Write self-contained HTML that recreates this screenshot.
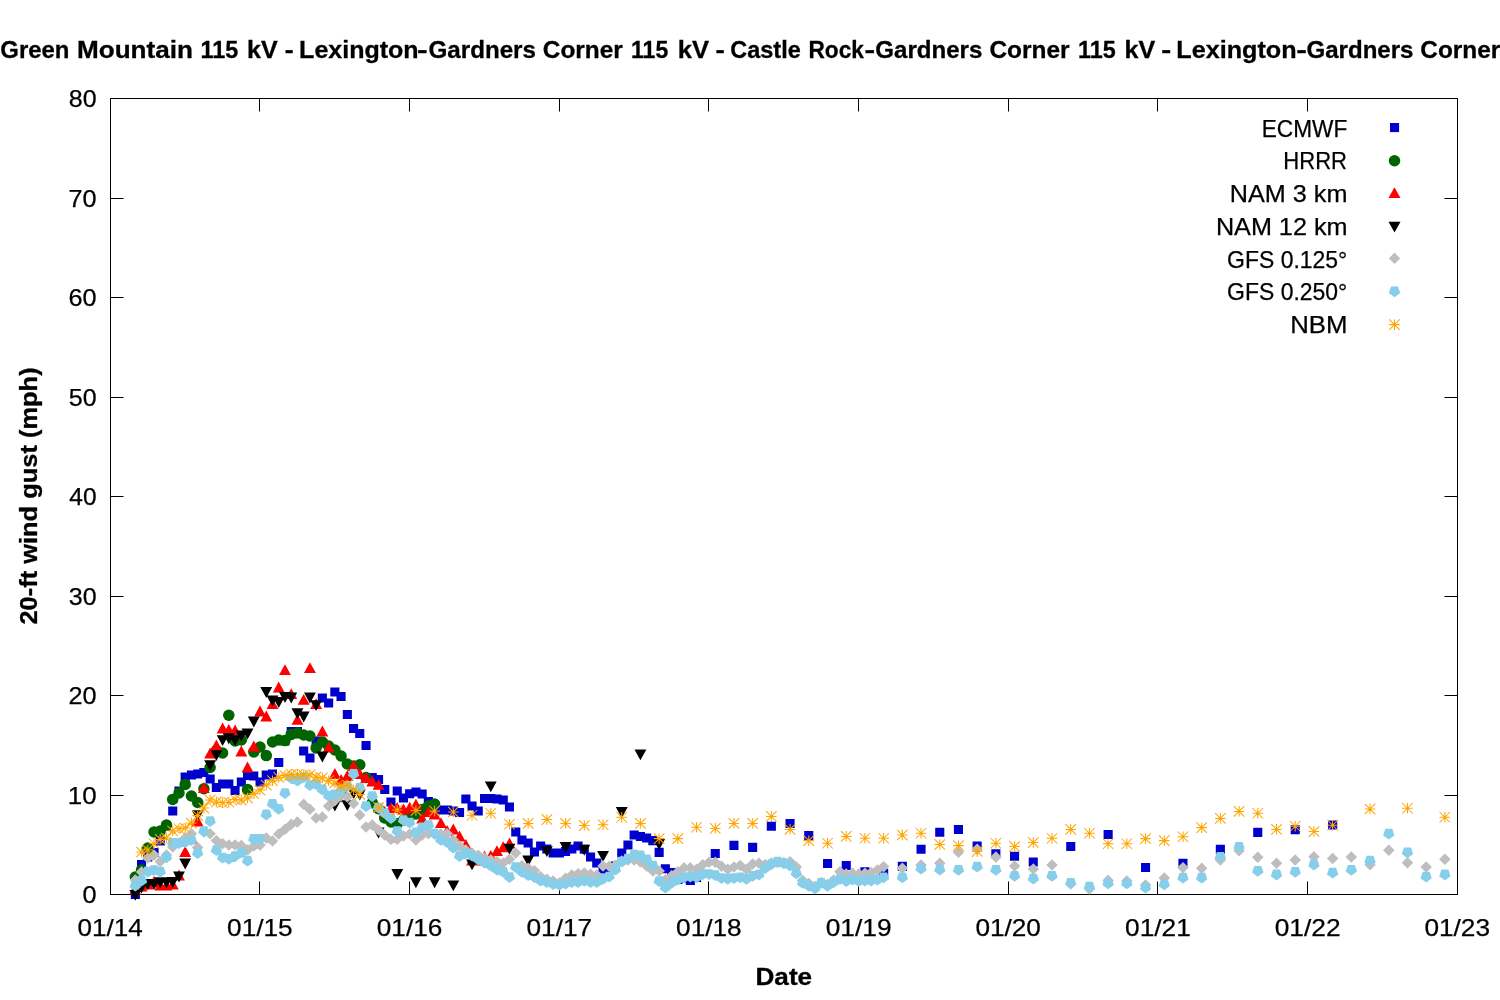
<!DOCTYPE html>
<html><head><meta charset="utf-8"><title>20-ft wind gust</title>
<style>
html,body{margin:0;padding:0;background:#fff;}
body{width:1500px;height:1000px;overflow:hidden;}
svg{display:block;}
text{font-family:"Liberation Sans","DejaVu Sans",sans-serif;font-size:24px;fill:#000;stroke:#000;stroke-width:0.25px;}
text.b{font-weight:bold;stroke-width:0.3px;}
</style></head><body>
<svg width="1500" height="1000" viewBox="0 0 1500 1000">
<rect width="1500" height="1000" fill="#fff"/>
<text class="b" y="58.2"><tspan x="0.30" textLength="69.18" lengthAdjust="spacingAndGlyphs">Green</tspan> <tspan x="77.03" textLength="115.91" lengthAdjust="spacingAndGlyphs">Mountain</tspan> <tspan x="200.54" textLength="37.66" lengthAdjust="spacingAndGlyphs">115</tspan> <tspan x="247.10" textLength="30.64" lengthAdjust="spacingAndGlyphs">kV</tspan> <tspan x="284.68" textLength="8.92" lengthAdjust="spacingAndGlyphs">-</tspan> <tspan x="299.11" textLength="119.49" lengthAdjust="spacingAndGlyphs">Lexington</tspan><tspan x="416.97" textLength="10.66" lengthAdjust="spacingAndGlyphs">-</tspan><tspan x="428.49" textLength="107.47" lengthAdjust="spacingAndGlyphs">Gardners</tspan> <tspan x="542.78" textLength="80.03" lengthAdjust="spacingAndGlyphs">Corner</tspan> <tspan x="631.06" textLength="37.13" lengthAdjust="spacingAndGlyphs">115</tspan> <tspan x="677.77" textLength="31.28" lengthAdjust="spacingAndGlyphs">kV</tspan> <tspan x="715.63" textLength="9.32" lengthAdjust="spacingAndGlyphs">-</tspan> <tspan x="730.32" textLength="70.45" lengthAdjust="spacingAndGlyphs">Castle</tspan> <tspan x="808.47" textLength="55.39" lengthAdjust="spacingAndGlyphs">Rock</tspan><tspan x="864.47" textLength="10.66" lengthAdjust="spacingAndGlyphs">-</tspan><tspan x="875.30" textLength="106.97" lengthAdjust="spacingAndGlyphs">Gardners</tspan> <tspan x="989.48" textLength="80.13" lengthAdjust="spacingAndGlyphs">Corner</tspan> <tspan x="1078.04" textLength="37.66" lengthAdjust="spacingAndGlyphs">115</tspan> <tspan x="1124.60" textLength="30.64" lengthAdjust="spacingAndGlyphs">kV</tspan> <tspan x="1161.25" textLength="9.99" lengthAdjust="spacingAndGlyphs">-</tspan> <tspan x="1176.29" textLength="120.31" lengthAdjust="spacingAndGlyphs">Lexington</tspan><tspan x="1296.17" textLength="10.66" lengthAdjust="spacingAndGlyphs">-</tspan><tspan x="1306.50" textLength="106.97" lengthAdjust="spacingAndGlyphs">Gardners</tspan> <tspan x="1420.28" textLength="80.03" lengthAdjust="spacingAndGlyphs">Corner</tspan></text>
<path fill="none" stroke="#000" stroke-width="1" d="M110.5 98.5H1457.5V894.5H110.5zM110.5 894.5v-13M110.5 98.5v13M259.5 894.5v-13M259.5 98.5v13M409.5 894.5v-13M409.5 98.5v13M559.5 894.5v-13M559.5 98.5v13M708.5 894.5v-13M708.5 98.5v13M858.5 894.5v-13M858.5 98.5v13M1008.5 894.5v-13M1008.5 98.5v13M1157.5 894.5v-13M1157.5 98.5v13M1307.5 894.5v-13M1307.5 98.5v13M1457.5 894.5v-13M1457.5 98.5v13M110.5 894.5h13M1457.5 894.5h-13M110.5 795.5h13M1457.5 795.5h-13M110.5 695.5h13M1457.5 695.5h-13M110.5 596.5h13M1457.5 596.5h-13M110.5 496.5h13M1457.5 496.5h-13M110.5 397.5h13M1457.5 397.5h-13M110.5 297.5h13M1457.5 297.5h-13M110.5 198.5h13M1457.5 198.5h-13M110.5 98.5h13M1457.5 98.5h-13"/>
<text x="82.55" y="903.3" textLength="14.08" lengthAdjust="spacingAndGlyphs">0</text><text x="67.77" y="803.8" textLength="28.85" lengthAdjust="spacingAndGlyphs">10</text><text x="68.48" y="704.3" textLength="28.11" lengthAdjust="spacingAndGlyphs">20</text><text x="68.76" y="604.8" textLength="27.83" lengthAdjust="spacingAndGlyphs">30</text><text x="69.29" y="505.3" textLength="27.28" lengthAdjust="spacingAndGlyphs">40</text><text x="68.76" y="405.8" textLength="27.83" lengthAdjust="spacingAndGlyphs">50</text><text x="68.48" y="306.3" textLength="28.11" lengthAdjust="spacingAndGlyphs">60</text><text x="68.48" y="206.8" textLength="28.11" lengthAdjust="spacingAndGlyphs">70</text><text x="68.76" y="107.3" textLength="27.83" lengthAdjust="spacingAndGlyphs">80</text><text x="77.41" y="936.4" textLength="65.23" lengthAdjust="spacingAndGlyphs">01/14</text><text x="227.07" y="936.4" textLength="65.65" lengthAdjust="spacingAndGlyphs">01/15</text><text x="376.74" y="936.4" textLength="65.65" lengthAdjust="spacingAndGlyphs">01/16</text><text x="526.40" y="936.4" textLength="65.79" lengthAdjust="spacingAndGlyphs">01/17</text><text x="676.07" y="936.4" textLength="65.65" lengthAdjust="spacingAndGlyphs">01/18</text><text x="825.74" y="936.4" textLength="65.79" lengthAdjust="spacingAndGlyphs">01/19</text><text x="975.41" y="936.4" textLength="65.51" lengthAdjust="spacingAndGlyphs">01/20</text><text x="1125.07" y="936.4" textLength="65.79" lengthAdjust="spacingAndGlyphs">01/21</text><text x="1274.74" y="936.4" textLength="65.79" lengthAdjust="spacingAndGlyphs">01/22</text><text x="1424.41" y="936.4" textLength="65.65" lengthAdjust="spacingAndGlyphs">01/23</text><text x="1261.71" y="136.7" textLength="85.53" lengthAdjust="spacingAndGlyphs">ECMWF</text><text x="1283.36" y="169.4" textLength="63.64" lengthAdjust="spacingAndGlyphs">HRRR</text><text x="1229.80" y="202.2" textLength="117.58" lengthAdjust="spacingAndGlyphs">NAM 3 km</text><text x="1215.90" y="234.9" textLength="131.58" lengthAdjust="spacingAndGlyphs">NAM 12 km</text><text x="1227.10" y="267.7" textLength="120.14" lengthAdjust="spacingAndGlyphs">GFS 0.125°</text><text x="1227.10" y="300.4" textLength="120.14" lengthAdjust="spacingAndGlyphs">GFS 0.250°</text><text x="1290.25" y="333.2" textLength="57.25" lengthAdjust="spacingAndGlyphs">NBM</text>
<text class="b" x="755.53" y="985" textLength="56.61" lengthAdjust="spacingAndGlyphs">Date</text>
<text class="b" transform="translate(36.6 624.53) rotate(-90)" textLength="257.13" lengthAdjust="spacingAndGlyphs">20-ft wind gust (mph)</text>
<g shape-rendering="geometricPrecision">
<path fill="#0000cd" d="M130.8 889.8h9.1v9.1h-9.1zM137 859.9h9.1v9.1h-9.1zM143.2 852.5h9.1v9.1h-9.1zM149.5 848h9.1v9.1h-9.1zM155.7 836.5h9.1v9.1h-9.1zM161.9 821.5h9.1v9.1h-9.1zM168.2 806.5h9.1v9.1h-9.1zM174.4 786.5h9.1v9.1h-9.1zM180.6 772.5h9.1v9.1h-9.1zM186.9 770.5h9.1v9.1h-9.1zM193.1 769.5h9.1v9.1h-9.1zM199.3 768h9.1v9.1h-9.1zM205.6 774.5h9.1v9.1h-9.1zM211.8 783h9.1v9.1h-9.1zM218.1 779.5h9.1v9.1h-9.1zM224.3 779.5h9.1v9.1h-9.1zM230.5 786h9.1v9.1h-9.1zM236.8 777.5h9.1v9.1h-9.1zM243 771h9.1v9.1h-9.1zM249.2 771.5h9.1v9.1h-9.1zM255.5 777.5h9.1v9.1h-9.1zM261.7 770.5h9.1v9.1h-9.1zM267.9 769.5h9.1v9.1h-9.1zM274.2 758h9.1v9.1h-9.1zM280.4 736.5h9.1v9.1h-9.1zM286.7 727h9.1v9.1h-9.1zM292.9 727h9.1v9.1h-9.1zM299.1 746.5h9.1v9.1h-9.1zM305.4 753.5h9.1v9.1h-9.1zM311.6 736.5h9.1v9.1h-9.1zM317.8 693.5h9.1v9.1h-9.1zM324.1 698.5h9.1v9.1h-9.1zM330.3 687.5h9.1v9.1h-9.1zM336.5 692h9.1v9.1h-9.1zM342.8 709.9h9.1v9.1h-9.1zM349 723.9h9.1v9.1h-9.1zM355.2 728.9h9.1v9.1h-9.1zM361.5 740.9h9.1v9.1h-9.1zM367.7 773h9.1v9.1h-9.1zM374 774.9h9.1v9.1h-9.1zM380.2 784.9h9.1v9.1h-9.1zM386.4 797.5h9.1v9.1h-9.1zM392.7 786.5h9.1v9.1h-9.1zM398.9 793.5h9.1v9.1h-9.1zM405.1 789.2h9.1v9.1h-9.1zM411.4 787.5h9.1v9.1h-9.1zM417.6 789.5h9.1v9.1h-9.1zM423.8 797.1h9.1v9.1h-9.1zM430.1 802.5h9.1v9.1h-9.1zM436.3 805.5h9.1v9.1h-9.1zM442.6 805.5h9.1v9.1h-9.1zM448.8 806.5h9.1v9.1h-9.1zM455 808h9.1v9.1h-9.1zM461.3 794.5h9.1v9.1h-9.1zM467.5 801.5h9.1v9.1h-9.1zM473.7 806.5h9.1v9.1h-9.1zM480 794h9.1v9.1h-9.1zM486.2 794h9.1v9.1h-9.1zM492.4 794.5h9.1v9.1h-9.1zM498.7 795.5h9.1v9.1h-9.1zM504.9 802.5h9.1v9.1h-9.1zM511.2 827.5h9.1v9.1h-9.1zM517.4 835.5h9.1v9.1h-9.1zM523.6 838.5h9.1v9.1h-9.1zM529.9 847.5h9.1v9.1h-9.1zM536.1 841.5h9.1v9.1h-9.1zM542.3 844.5h9.1v9.1h-9.1zM548.6 848.5h9.1v9.1h-9.1zM554.8 848.5h9.1v9.1h-9.1zM561 847h9.1v9.1h-9.1zM567.3 844.5h9.1v9.1h-9.1zM573.5 841.5h9.1v9.1h-9.1zM579.7 844.7h9.1v9.1h-9.1zM586 852.5h9.1v9.1h-9.1zM592.2 858.5h9.1v9.1h-9.1zM598.5 864.5h9.1v9.1h-9.1zM604.7 864.5h9.1v9.1h-9.1zM610.9 861.5h9.1v9.1h-9.1zM617.2 848.5h9.1v9.1h-9.1zM623.4 840.5h9.1v9.1h-9.1zM629.6 830.5h9.1v9.1h-9.1zM635.9 831.9h9.1v9.1h-9.1zM642.1 833.5h9.1v9.1h-9.1zM648.3 836.1h9.1v9.1h-9.1zM654.6 847.8h9.1v9.1h-9.1zM660.8 864.2h9.1v9.1h-9.1zM667.1 868.1h9.1v9.1h-9.1zM673.3 875h9.1v9.1h-9.1zM679.5 873.5h9.1v9.1h-9.1zM685.8 875.8h9.1v9.1h-9.1zM692 873h9.1v9.1h-9.1zM710.7 848.9h9.1v9.1h-9.1zM729.4 840.8h9.1v9.1h-9.1zM748.1 842.8h9.1v9.1h-9.1zM766.8 821.7h9.1v9.1h-9.1zM785.5 818.9h9.1v9.1h-9.1zM804.2 830.9h9.1v9.1h-9.1zM823 859h9.1v9.1h-9.1zM841.7 861h9.1v9.1h-9.1zM860.4 867.2h9.1v9.1h-9.1zM879.1 868.8h9.1v9.1h-9.1zM897.8 861.8h9.1v9.1h-9.1zM916.5 844.7h9.1v9.1h-9.1zM935.2 827.7h9.1v9.1h-9.1zM953.9 824.9h9.1v9.1h-9.1zM972.6 841.5h9.1v9.1h-9.1zM991.3 849.2h9.1v9.1h-9.1zM1010 851.7h9.1v9.1h-9.1zM1028.7 857.5h9.1v9.1h-9.1zM1066.2 841.9h9.1v9.1h-9.1zM1103.6 829.9h9.1v9.1h-9.1zM1141 862.9h9.1v9.1h-9.1zM1178.4 858.7h9.1v9.1h-9.1zM1215.8 844.7h9.1v9.1h-9.1zM1253.2 827.8h9.1v9.1h-9.1zM1290.7 825.2h9.1v9.1h-9.1zM1328.1 820.5h9.1v9.1h-9.1z"/>
<g fill="#006400"><circle cx="135.3" cy="877" r="5.75"/><circle cx="141.5" cy="870" r="5.75"/><circle cx="147.8" cy="848" r="5.75"/><circle cx="154" cy="832" r="5.75"/><circle cx="160.2" cy="831" r="5.75"/><circle cx="166.5" cy="825" r="5.75"/><circle cx="172.7" cy="799.4" r="5.75"/><circle cx="179" cy="793" r="5.75"/><circle cx="185.2" cy="784.4" r="5.75"/><circle cx="191.4" cy="796" r="5.75"/><circle cx="197.7" cy="802.5" r="5.75"/><circle cx="203.9" cy="788.8" r="5.75"/><circle cx="210.1" cy="767.5" r="5.75"/><circle cx="216.4" cy="750.5" r="5.75"/><circle cx="222.6" cy="753" r="5.75"/><circle cx="228.8" cy="715.3" r="5.75"/><circle cx="235.1" cy="741" r="5.75"/><circle cx="241.3" cy="740" r="5.75"/><circle cx="247.5" cy="789.4" r="5.75"/><circle cx="253.8" cy="752" r="5.75"/><circle cx="260" cy="747" r="5.75"/><circle cx="266.3" cy="755.6" r="5.75"/><circle cx="272.5" cy="742" r="5.75"/><circle cx="278.7" cy="740" r="5.75"/><circle cx="285" cy="740.6" r="5.75"/><circle cx="291.2" cy="734.4" r="5.75"/><circle cx="297.4" cy="733" r="5.75"/><circle cx="303.7" cy="735" r="5.75"/><circle cx="309.9" cy="736" r="5.75"/><circle cx="316.1" cy="748" r="5.75"/><circle cx="322.4" cy="742" r="5.75"/><circle cx="328.6" cy="746" r="5.75"/><circle cx="334.9" cy="750" r="5.75"/><circle cx="341.1" cy="756" r="5.75"/><circle cx="347.3" cy="764" r="5.75"/><circle cx="353.6" cy="766" r="5.75"/><circle cx="359.8" cy="764.7" r="5.75"/><circle cx="366" cy="777.5" r="5.75"/><circle cx="372.3" cy="802.8" r="5.75"/><circle cx="378.5" cy="808.7" r="5.75"/><circle cx="384.7" cy="818" r="5.75"/><circle cx="391" cy="822" r="5.75"/><circle cx="397.2" cy="823.7" r="5.75"/><circle cx="403.5" cy="820" r="5.75"/><circle cx="409.7" cy="816" r="5.75"/><circle cx="415.9" cy="814" r="5.75"/><circle cx="422.2" cy="809.4" r="5.75"/><circle cx="428.4" cy="806" r="5.75"/><circle cx="434.6" cy="804" r="5.75"/></g>
<path fill="#ff0000" d="M129.4 894.4L135.3 883.5L141.2 894.4zM135.6 891.4L141.5 880.5L147.5 891.4zM141.8 889.4L147.8 878.5L153.7 889.4zM148.1 886.9L154 876L160 886.9zM154.3 890.4L160.2 879.5L166.2 890.4zM160.5 890.4L166.5 879.5L172.4 890.4zM166.8 889.4L172.7 878.5L178.7 889.4zM173 880.4L179 869.5L184.9 880.4zM179.2 856.9L185.2 846L191.1 856.9zM185.5 843.4L191.4 832.5L197.4 843.4zM191.7 826.4L197.7 815.5L203.6 826.4zM197.9 792.9L203.9 782L209.8 792.9zM204.2 758.4L210.1 747.5L216.1 758.4zM210.4 750.4L216.4 739.5L222.3 750.4zM216.7 733.4L222.6 722.5L228.6 733.4zM222.9 734.8L228.8 723.9L234.8 734.8zM229.1 735.4L235.1 724.5L241 735.4zM235.4 756.4L241.3 745.5L247.3 756.4zM241.6 772.4L247.5 761.5L253.5 772.4zM247.8 751.4L253.8 740.5L259.7 751.4zM254.1 716.4L260 705.5L266 716.4zM260.3 721.4L266.3 710.5L272.2 721.4zM266.5 709.1L272.5 698.2L278.4 709.1zM272.8 692.4L278.7 681.5L284.7 692.4zM279 675.1L285 664.2L290.9 675.1zM285.3 699.1L291.2 688.2L297.2 699.1zM291.5 724.8L297.4 713.9L303.4 724.8zM297.7 704.8L303.7 693.9L309.6 704.8zM304 673.1L309.9 662.2L315.9 673.1zM310.2 709.1L316.1 698.2L322.1 709.1zM316.4 736.4L322.4 725.5L328.3 736.4zM322.7 752.4L328.6 741.5L334.6 752.4zM328.9 778.9L334.9 768L340.8 778.9zM335.1 784.8L341.1 773.9L347 784.8zM341.4 781L347.3 770.1L353.3 781zM347.6 771L353.6 760.1L359.5 771zM353.8 779.1L359.8 768.2L365.7 779.1zM360.1 782.9L366 772L372 782.9zM366.3 786.4L372.3 775.5L378.2 786.4zM372.6 789.8L378.5 778.9L384.5 789.8zM378.8 816.9L384.7 806L390.7 816.9zM385 812.9L391 802L396.9 812.9zM391.3 812.9L397.2 802L403.2 812.9zM397.5 814.4L403.5 803.5L409.4 814.4zM403.7 812.7L409.7 801.8L415.6 812.7zM410 809.6L415.9 798.7L421.9 809.6zM416.2 823.4L422.2 812.5L428.1 823.4zM422.4 817.1L428.4 806.2L434.3 817.1zM428.7 819.4L434.6 808.5L440.6 819.4zM434.9 828.1L440.9 817.2L446.8 828.1zM441.2 835.9L447.1 825L453.1 835.9zM447.4 834.4L453.3 823.5L459.3 834.4zM453.6 841.4L459.6 830.5L465.5 841.4zM459.9 849.9L465.8 839L471.8 849.9zM466.1 865.4L472 854.5L478 865.4zM472.3 865.4L478.3 854.5L484.2 865.4zM478.6 861.4L484.5 850.5L490.5 861.4zM484.8 860.8L490.8 849.9L496.7 860.8zM491 856.1L497 845.2L502.9 856.1zM497.3 852.2L503.2 841.3L509.2 852.2zM503.5 848.4L509.5 837.5L515.4 848.4z"/>
<path fill="#000" d="M129.4 889.9L135.3 900.8L141.2 889.9zM135.6 882.6L141.5 893.5L147.5 882.6zM141.8 879.1L147.8 890L153.7 879.1zM148.1 879.1L154 890L160 879.1zM154.3 877.3L160.2 888.2L166.2 877.3zM160.5 877.3L166.5 888.2L172.4 877.3zM166.8 877L172.7 887.9L178.7 877zM173 871.6L179 882.5L184.9 871.6zM179.2 858.6L185.2 869.5L191.1 858.6zM191.7 810.2L197.7 821.1L203.6 810.2zM204.2 760.2L210.1 771.1L216.1 760.2zM210.4 750.2L216.4 761.1L222.3 750.2zM216.7 735.2L222.6 746.1L228.6 735.2zM222.9 733.3L228.8 744.2L234.8 733.3zM229.1 735.2L235.1 746.1L241 735.2zM235.4 730.6L241.3 741.5L247.3 730.6zM241.6 728.6L247.5 739.5L253.5 728.6zM247.8 716.6L253.8 727.5L259.7 716.6zM260.3 687.1L266.3 698L272.2 687.1zM266.5 695.6L272.5 706.5L278.4 695.6zM272.8 697.1L278.7 708L284.7 697.1zM279 692.1L285 703L290.9 692.1zM285.3 692.6L291.2 703.5L297.2 692.6zM291.5 708.3L297.4 719.2L303.4 708.3zM297.7 711.6L303.7 722.5L309.6 711.6zM304 692.6L309.9 703.5L315.9 692.6zM310.2 700.2L316.1 711.1L322.1 700.2zM316.4 751.6L322.4 762.5L328.3 751.6zM328.9 800.6L334.9 811.5L340.8 800.6zM335.1 791.6L341.1 802.5L347 791.6zM341.4 800.2L347.3 811.1L353.3 800.2zM347.6 788.3L353.6 799.2L359.5 788.3zM353.8 789.6L359.8 800.5L365.7 789.6zM372.6 827.6L378.5 838.5L384.5 827.6zM391.3 869L397.2 879.9L403.2 869zM410 877.3L415.9 888.2L421.9 877.3zM428.7 877.3L434.6 888.2L440.6 877.3zM447.4 880.4L453.3 891.3L459.3 880.4zM466.1 859.4L472 870.3L478 859.4zM484.8 781.4L490.8 792.3L496.7 781.4zM503.5 843.8L509.5 854.7L515.4 843.8zM522.2 855.6L528.2 866.5L534.1 855.6zM540.9 846.2L546.9 857.1L552.8 846.2zM559.6 842.1L565.6 853L571.5 842.1zM578.3 844.8L584.3 855.7L590.2 844.8zM597.1 850.9L603 861.8L609 850.9zM615.8 807.1L621.7 818L627.7 807.1zM634.5 749.4L640.4 760.3L646.4 749.4zM653.2 839.1L659.1 850L665.1 839.1z"/>
<path fill="#bebebe" d="M129.6 880L135.3 874.2L141.1 880L135.3 885.8zM135.8 872L141.5 866.2L147.3 872L141.5 877.8zM142 858L147.8 852.2L153.5 858L147.8 863.8zM148.3 855L154 849.2L159.8 855L154 860.8zM154.5 861.5L160.2 855.8L166 861.5L160.2 867.2zM160.7 855L166.5 849.2L172.2 855L166.5 860.8zM167 847L172.7 841.2L178.5 847L172.7 852.8zM173.2 843L179 837.2L184.7 843L179 848.8zM179.4 838L185.2 832.2L190.9 838L185.2 843.8zM185.7 833.7L191.4 828L197.2 833.7L191.4 839.5zM191.9 847.5L197.7 841.8L203.4 847.5L197.7 853.2zM198.1 832L203.9 826.2L209.6 832L203.9 837.8zM204.4 833.7L210.1 828L215.9 833.7L210.1 839.5zM210.6 840.6L216.4 834.9L222.1 840.6L216.4 846.4zM216.9 843.7L222.6 838L228.4 843.7L222.6 849.5zM223.1 845L228.8 839.2L234.6 845L228.8 850.8zM229.3 845L235.1 839.2L240.8 845L235.1 850.8zM235.6 845.5L241.3 839.8L247.1 845.5L241.3 851.2zM241.8 850L247.5 844.2L253.3 850L247.5 855.8zM248 846L253.8 840.2L259.5 846L253.8 851.8zM254.3 845L260 839.2L265.8 845L260 850.8zM260.5 838L266.3 832.2L272 838L266.3 843.8zM266.7 841L272.5 835.2L278.2 841L272.5 846.8zM273 834L278.7 828.2L284.5 834L278.7 839.8zM279.2 829.4L285 823.6L290.7 829.4L285 835.1zM285.5 824.4L291.2 818.6L297 824.4L291.2 830.1zM291.7 822L297.4 816.2L303.2 822L297.4 827.8zM297.9 804.4L303.7 798.6L309.4 804.4L303.7 810.1zM304.2 809.4L309.9 803.6L315.7 809.4L309.9 815.1zM310.4 818L316.1 812.2L321.9 818L316.1 823.8zM316.6 817L322.4 811.2L328.1 817L322.4 822.8zM322.9 806L328.6 800.2L334.4 806L328.6 811.8zM329.1 800.6L334.9 794.9L340.6 800.6L334.9 806.4zM335.3 795.6L341.1 789.9L346.8 795.6L341.1 801.4zM341.6 797L347.3 791.2L353.1 797L347.3 802.8zM347.8 803.5L353.6 797.8L359.3 803.5L353.6 809.2zM354 815L359.8 809.2L365.5 815L359.8 820.8zM360.3 827L366 821.2L371.8 827L366 832.8zM366.5 825L372.3 819.2L378 825L372.3 830.8zM372.8 830L378.5 824.2L384.3 830L378.5 835.8zM379 835L384.7 829.2L390.5 835L384.7 840.8zM385.2 839.4L391 833.6L396.7 839.4L391 845.1zM391.5 839.4L397.2 833.6L403 839.4L397.2 845.1zM397.7 836L403.5 830.2L409.2 836L403.5 841.8zM403.9 834L409.7 828.2L415.4 834L409.7 839.8zM410.2 840L415.9 834.2L421.7 840L415.9 845.8zM416.4 835L422.2 829.2L427.9 835L422.2 840.8zM422.6 833.6L428.4 827.9L434.1 833.6L428.4 839.4zM428.9 834L434.6 828.2L440.4 834L434.6 839.8zM435.1 834L440.9 828.2L446.6 834L440.9 839.8zM441.4 833.6L447.1 827.9L452.9 833.6L447.1 839.4zM447.6 840L453.3 834.2L459.1 840L453.3 845.8zM453.8 846L459.6 840.2L465.3 846L459.6 851.8zM460.1 850L465.8 844.2L471.6 850L465.8 855.8zM466.3 853L472 847.2L477.8 853L472 858.8zM472.5 855.4L478.3 849.6L484 855.4L478.3 861.1zM478.8 857.7L484.5 852L490.3 857.7L484.5 863.5zM485 860L490.8 854.2L496.5 860L490.8 865.8zM491.2 861.6L497 855.9L502.7 861.6L497 867.4zM497.5 863L503.2 857.2L509 863L503.2 868.8zM503.7 859.3L509.5 853.5L515.2 859.3L509.5 865zM510 853L515.7 847.2L521.5 853L515.7 858.8zM516.2 865.8L521.9 860L527.7 865.8L521.9 871.5zM522.4 868.2L528.2 862.5L533.9 868.2L528.2 874zM528.7 870.6L534.4 864.9L540.2 870.6L534.4 876.4zM534.9 876.6L540.6 870.9L546.4 876.6L540.6 882.4zM541.1 879.4L546.9 873.6L552.6 879.4L546.9 885.1zM547.4 881L553.1 875.2L558.9 881L553.1 886.8zM553.6 883L559.4 877.2L565.1 883L559.4 888.8zM559.8 878.2L565.6 872.5L571.3 878.2L565.6 884zM566.1 875L571.8 869.2L577.6 875L571.8 880.8zM572.3 873.8L578.1 868L583.8 873.8L578.1 879.5zM578.5 873L584.3 867.2L590 873L584.3 878.8zM584.8 874.2L590.5 868.5L596.3 874.2L590.5 880zM591 875L596.8 869.2L602.5 875L596.8 880.8zM597.3 866L603 860.2L608.8 866L603 871.8zM603.5 866.2L609.2 860.5L615 866.2L609.2 872zM609.7 865.4L615.5 859.6L621.2 865.4L615.5 871.1zM616 861L621.7 855.2L627.5 861L621.7 866.8zM622.2 860L628 854.2L633.7 860L628 865.8zM628.4 860L634.2 854.2L639.9 860L634.2 865.8zM634.7 862L640.4 856.2L646.2 862L640.4 867.8zM640.9 866L646.7 860.2L652.4 866L646.7 871.8zM647.1 871L652.9 865.2L658.6 871L652.9 876.8zM653.4 871L659.1 865.2L664.9 871L659.1 876.8zM659.6 880L665.4 874.2L671.1 880L665.4 885.8zM665.9 875.7L671.6 870L677.4 875.7L671.6 881.5zM672.1 871.8L677.8 866L683.6 871.8L677.8 877.5zM678.3 867.9L684.1 862.1L689.8 867.9L684.1 873.6zM684.6 867.9L690.3 862.1L696.1 867.9L690.3 873.6zM690.8 869.4L696.5 863.6L702.3 869.4L696.5 875.1zM697 864.8L702.8 859L708.5 864.8L702.8 870.5zM703.3 862.4L709 856.6L714.8 862.4L709 868.1zM709.5 862.4L715.3 856.6L721 862.4L715.3 868.1zM715.7 866.3L721.5 860.5L727.2 866.3L721.5 872zM722 869.4L727.7 863.6L733.5 869.4L727.7 875.1zM728.2 867L734 861.2L739.7 867L734 872.8zM734.5 865.5L740.2 859.8L746 865.5L740.2 871.2zM740.7 869.4L746.4 863.6L752.2 869.4L746.4 875.1zM746.9 864L752.7 858.2L758.4 864L752.7 869.8zM753.2 863.2L758.9 857.5L764.7 863.2L758.9 869zM759.4 864.5L765.1 858.8L770.9 864.5L765.1 870.2zM765.6 863L771.4 857.2L777.1 863L771.4 868.8zM771.9 862.5L777.6 856.8L783.4 862.5L777.6 868.2zM778.1 862.5L783.9 856.8L789.6 862.5L783.9 868.2zM784.3 861.6L790.1 855.9L795.8 861.6L790.1 867.4zM790.6 867L796.3 861.2L802.1 867L796.3 872.8zM796.8 880.5L802.6 874.8L808.3 880.5L802.6 886.2zM803 883.5L808.8 877.8L814.5 883.5L808.8 889.2zM809.3 886.5L815 880.8L820.8 886.5L815 892.2zM815.5 882.5L821.3 876.8L827 882.5L821.3 888.2zM821.8 884.5L827.5 878.8L833.3 884.5L827.5 890.2zM828 880L833.7 874.2L839.5 880L833.7 885.8zM834.2 871.8L840 866L845.7 871.8L840 877.5zM840.5 874L846.2 868.2L852 874L846.2 879.8zM846.7 873.3L852.5 867.5L858.2 873.3L852.5 879zM852.9 874L858.7 868.2L864.4 874L858.7 879.8zM859.2 873.3L864.9 867.5L870.7 873.3L864.9 879zM865.4 872.5L871.2 866.8L876.9 872.5L871.2 878.2zM871.6 870L877.4 864.2L883.1 870L877.4 875.8zM877.9 866.6L883.6 860.9L889.4 866.6L883.6 872.4zM896.6 868.2L902.3 862.5L908.1 868.2L902.3 874zM915.3 865L921 859.2L926.8 865L921 870.8zM934 863.2L939.8 857.5L945.5 863.2L939.8 869zM952.7 852.3L958.5 846.5L964.2 852.3L958.5 858zM971.4 849.2L977.2 843.5L982.9 849.2L977.2 855zM990.1 857L995.9 851.2L1001.6 857L995.9 862.8zM1008.8 866L1014.6 860.2L1020.3 866L1014.6 871.8zM1027.5 869L1033.3 863.2L1039 869L1033.3 874.8zM1046.3 865L1052 859.2L1057.8 865L1052 870.8zM1065 884L1070.7 878.2L1076.5 884L1070.7 889.8zM1083.7 889L1089.4 883.2L1095.2 889L1089.4 894.8zM1102.4 880.4L1108.1 874.6L1113.9 880.4L1108.1 886.1zM1121.1 881L1126.8 875.2L1132.6 881L1126.8 886.8zM1139.8 885L1145.5 879.2L1151.3 885L1145.5 890.8zM1158.5 878L1164.3 872.2L1170 878L1164.3 883.8zM1177.2 867.6L1183 861.9L1188.7 867.6L1183 873.4zM1195.9 868.2L1201.7 862.5L1207.4 868.2L1201.7 874zM1214.6 860L1220.4 854.2L1226.1 860L1220.4 865.8zM1233.3 850.7L1239.1 845L1244.8 850.7L1239.1 856.5zM1252 857.3L1257.8 851.5L1263.5 857.3L1257.8 863zM1270.8 863.2L1276.5 857.5L1282.3 863.2L1276.5 869zM1289.5 860L1295.2 854.2L1301 860L1295.2 865.8zM1308.2 856.7L1313.9 851L1319.7 856.7L1313.9 862.5zM1326.9 858.5L1332.6 852.8L1338.4 858.5L1332.6 864.2zM1345.6 857L1351.3 851.2L1357.1 857L1351.3 862.8zM1364.3 864.8L1370 859L1375.8 864.8L1370 870.5zM1383 850.3L1388.8 844.5L1394.5 850.3L1388.8 856zM1401.7 862.7L1407.5 857L1413.2 862.7L1407.5 868.5zM1420.4 867L1426.2 861.2L1431.9 867L1426.2 872.8zM1439.1 859.3L1444.9 853.5L1450.6 859.3L1444.9 865z"/>
<path fill="#87ceeb" d="M135.3 891.4L129.6 887.2L131.8 880.6L138.8 880.6L141 887.2zM141.5 886.6L135.9 882.4L138 875.8L145 875.8L147.2 882.4zM147.8 877.6L142.1 873.4L144.3 866.8L151.3 866.8L153.4 873.4zM154 876L148.3 871.8L150.5 865.2L157.5 865.2L159.7 871.8zM160.2 877.6L154.6 873.4L156.7 866.8L163.7 866.8L165.9 873.4zM166.5 863.2L160.8 859.1L163 852.5L170 852.5L172.1 859.1zM172.7 848.7L167.1 844.5L169.2 837.9L176.2 837.9L178.4 844.5zM179 849L173.3 844.8L175.5 838.2L182.5 838.2L184.6 844.8zM185.2 848L179.5 843.8L181.7 837.2L188.7 837.2L190.8 843.8zM191.4 846L185.8 841.8L187.9 835.2L194.9 835.2L197.1 841.8zM197.7 859L192 854.8L194.2 848.2L201.2 848.2L203.3 854.8zM203.9 837L198.2 832.8L200.4 826.2L207.4 826.2L209.6 832.8zM210.1 827L204.5 822.8L206.6 816.2L213.6 816.2L215.8 822.8zM216.4 856L210.7 851.8L212.9 845.2L219.9 845.2L222 851.8zM222.6 863.5L216.9 859.3L219.1 852.7L226.1 852.7L228.3 859.3zM228.8 864.7L223.2 860.5L225.3 853.9L232.3 853.9L234.5 860.5zM235.1 862L229.4 857.8L231.6 851.2L238.6 851.2L240.7 857.8zM241.3 858.5L235.7 854.3L237.8 847.7L244.8 847.7L247 854.3zM247.5 866.6L241.9 862.4L244.1 855.8L251 855.8L253.2 862.4zM253.8 844.7L248.1 840.5L250.3 833.9L257.3 833.9L259.4 840.5zM260 844.7L254.4 840.5L256.5 833.9L263.5 833.9L265.7 840.5zM266.3 820.4L260.6 816.2L262.8 809.6L269.8 809.6L271.9 816.2zM272.5 809.7L266.8 805.5L269 798.9L276 798.9L278.2 805.5zM278.7 814.7L273.1 810.5L275.2 803.9L282.2 803.9L284.4 810.5zM285 799L279.3 794.8L281.5 788.2L288.5 788.2L290.6 794.8zM291.2 784L285.5 779.8L287.7 773.2L294.7 773.2L296.9 779.8zM297.4 786.6L291.8 782.4L293.9 775.8L300.9 775.8L303.1 782.4zM303.7 783L298 778.8L300.2 772.2L307.2 772.2L309.3 778.8zM309.9 791L304.3 786.8L306.4 780.2L313.4 780.2L315.6 786.8zM316.1 790L310.5 785.8L312.6 779.2L319.6 779.2L321.8 785.8zM322.4 795.4L316.7 791.2L318.9 784.6L325.9 784.6L328 791.2zM328.6 801.6L323 797.4L325.1 790.8L332.1 790.8L334.3 797.4zM334.9 800.4L329.2 796.2L331.4 789.6L338.4 789.6L340.5 796.2zM341.1 796L335.4 791.8L337.6 785.2L344.6 785.2L346.8 791.8zM347.3 792L341.7 787.8L343.8 781.2L350.8 781.2L353 787.8zM353.6 779.7L347.9 775.5L350.1 768.9L357.1 768.9L359.2 775.5zM359.8 793.5L354.1 789.3L356.3 782.7L363.3 782.7L365.5 789.3zM366 812L360.4 807.8L362.5 801.2L369.5 801.2L371.7 807.8zM372.3 802L366.6 797.8L368.8 791.2L375.8 791.2L377.9 797.8zM378.5 813.5L372.8 809.3L375 802.7L382 802.7L384.2 809.3zM384.7 819L379.1 814.8L381.2 808.2L388.2 808.2L390.4 814.8zM391 824L385.3 819.8L387.5 813.2L394.5 813.2L396.6 819.8zM397.2 837L391.6 832.8L393.7 826.2L400.7 826.2L402.9 832.8zM403.5 826L397.8 821.8L400 815.2L406.9 815.2L409.1 821.8zM409.7 828.5L404 824.3L406.2 817.7L413.2 817.7L415.3 824.3zM415.9 838.2L410.3 834.1L412.4 827.5L419.4 827.5L421.6 834.1zM422.2 833.2L416.5 829.1L418.7 822.5L425.7 822.5L427.8 829.1zM428.4 831L422.7 826.8L424.9 820.2L431.9 820.2L434.1 826.8zM434.6 839.6L429 835.4L431.1 828.8L438.1 828.8L440.3 835.4zM440.9 845.8L435.2 841.6L437.4 835L444.4 835L446.5 841.6zM447.1 848L441.4 843.8L443.6 837.2L450.6 837.2L452.8 843.8zM453.3 853.6L447.7 849.4L449.8 842.8L456.8 842.8L459 849.4zM459.6 862L453.9 857.8L456.1 851.2L463.1 851.2L465.2 857.8zM465.8 859L460.2 854.8L462.3 848.2L469.3 848.2L471.5 854.8zM472 861.4L466.4 857.2L468.6 850.6L475.5 850.6L477.7 857.2zM478.3 865.2L472.6 861.1L474.8 854.5L481.8 854.5L483.9 861.1zM484.5 868.4L478.9 864.2L481 857.6L488 857.6L490.2 864.2zM490.8 871.5L485.1 867.3L487.3 860.7L494.3 860.7L496.4 867.3zM497 875.4L491.3 871.2L493.5 864.6L500.5 864.6L502.7 871.2zM503.2 877.8L497.6 873.6L499.7 867L506.7 867L508.9 873.6zM509.5 883L503.8 878.8L506 872.2L513 872.2L515.1 878.8zM515.7 873L510 868.8L512.2 862.2L519.2 862.2L521.4 868.8zM521.9 877.8L516.3 873.6L518.4 867L525.4 867L527.6 873.6zM528.2 881L522.5 876.8L524.7 870.2L531.7 870.2L533.8 876.8zM534.4 883L528.8 878.8L530.9 872.2L537.9 872.2L540.1 878.8zM540.6 886.4L535 882.2L537.1 875.6L544.1 875.6L546.3 882.2zM546.9 888L541.2 883.8L543.4 877.2L550.4 877.2L552.5 883.8zM553.1 890L547.5 885.8L549.6 879.2L556.6 879.2L558.8 885.8zM559.4 890.8L553.7 886.6L555.9 880L562.9 880L565 886.6zM565.6 889.5L559.9 885.3L562.1 878.7L569.1 878.7L571.2 885.3zM571.8 888L566.2 883.8L568.3 877.2L575.3 877.2L577.5 883.8zM578.1 888L572.4 883.8L574.6 877.2L581.6 877.2L583.7 883.8zM584.3 886.7L578.6 882.5L580.8 875.9L587.8 875.9L590 882.5zM590.5 888L584.9 883.8L587 877.2L594 877.2L596.2 883.8zM596.8 888L591.1 883.8L593.3 877.2L600.3 877.2L602.4 883.8zM603 884.8L597.3 880.6L599.5 874L606.5 874L608.7 880.6zM609.2 882.5L603.6 878.3L605.7 871.7L612.7 871.7L614.9 878.3zM615.5 875.4L609.8 871.2L612 864.6L619 864.6L621.1 871.2zM621.7 867.6L616.1 863.4L618.2 856.8L625.2 856.8L627.4 863.4zM628 864.5L622.3 860.3L624.5 853.7L631.4 853.7L633.6 860.3zM634.2 860.6L628.5 856.4L630.7 849.8L637.7 849.8L639.8 856.4zM640.4 861.4L634.8 857.2L636.9 850.6L643.9 850.6L646.1 857.2zM646.7 865.2L641 861.1L643.2 854.5L650.2 854.5L652.3 861.1zM652.9 871.5L647.2 867.3L649.4 860.7L656.4 860.7L658.6 867.3zM659.1 887L653.5 882.8L655.6 876.2L662.6 876.2L664.8 882.8zM665.4 893.4L659.7 889.2L661.9 882.6L668.9 882.6L671 889.2zM671.6 888.7L665.9 884.5L668.1 877.9L675.1 877.9L677.3 884.5zM677.8 885.6L672.2 881.4L674.3 874.8L681.3 874.8L683.5 881.4zM684.1 883.2L678.4 879L680.6 872.4L687.6 872.4L689.7 879zM690.3 882.5L684.7 878.3L686.8 871.7L693.8 871.7L696 878.3zM696.5 883.2L690.9 879L693.1 872.4L700 872.4L702.2 879zM702.8 880L697.1 875.8L699.3 869.2L706.3 869.2L708.4 875.8zM709 880L703.4 875.8L705.5 869.2L712.5 869.2L714.7 875.8zM715.3 881L709.6 876.8L711.8 870.2L718.8 870.2L720.9 876.8zM721.5 884L715.8 879.8L718 873.2L725 873.2L727.2 879.8zM727.7 884.8L722.1 880.6L724.2 874L731.2 874L733.4 880.6zM734 884L728.3 879.8L730.5 873.2L737.5 873.2L739.6 879.8zM740.2 883.2L734.5 879L736.7 872.4L743.7 872.4L745.9 879zM746.4 884.8L740.8 880.6L742.9 874L749.9 874L752.1 880.6zM752.7 881.7L747 877.5L749.2 870.9L756.2 870.9L758.3 877.5zM758.9 880.5L753.3 876.3L755.4 869.7L762.4 869.7L764.6 876.3zM765.1 874L759.5 869.8L761.6 863.2L768.6 863.2L770.8 869.8zM771.4 870L765.7 865.8L767.9 859.2L774.9 859.2L777 865.8zM777.6 867.6L772 863.4L774.1 856.8L781.1 856.8L783.3 863.4zM783.9 869.2L778.2 865L780.4 858.4L787.4 858.4L789.5 865zM790.1 871.5L784.4 867.3L786.6 860.7L793.6 860.7L795.7 867.3zM796.3 879.2L790.7 875.1L792.8 868.5L799.8 868.5L802 875.1zM802.6 888.7L796.9 884.5L799.1 877.9L806.1 877.9L808.2 884.5zM808.8 891.8L803.1 887.6L805.3 881L812.3 881L814.5 887.6zM815 894.2L809.4 890L811.5 883.4L818.5 883.4L820.7 890zM821.3 888.7L815.6 884.5L817.8 877.9L824.8 877.9L826.9 884.5zM827.5 891.8L821.8 887.6L824 881L831 881L833.2 887.6zM833.7 888L828.1 883.8L830.2 877.2L837.2 877.2L839.4 883.8zM840 884.8L834.3 880.6L836.5 874L843.5 874L845.6 880.6zM846.2 887L840.6 882.8L842.7 876.2L849.7 876.2L851.9 882.8zM852.5 885.6L846.8 881.4L849 874.8L855.9 874.8L858.1 881.4zM858.7 887L853 882.8L855.2 876.2L862.2 876.2L864.3 882.8zM864.9 886.4L859.3 882.2L861.4 875.6L868.4 875.6L870.6 882.2zM871.2 886.4L865.5 882.2L867.7 875.6L874.7 875.6L876.8 882.2zM877.4 885.6L871.7 881.4L873.9 874.8L880.9 874.8L883.1 881.4zM883.6 883.2L878 879L880.1 872.4L887.1 872.4L889.3 879zM902.3 883.2L896.7 879L898.8 872.4L905.8 872.4L908 879zM921 874.4L915.4 870.2L917.6 863.6L924.5 863.6L926.7 870.2zM939.8 875.5L934.1 871.3L936.3 864.7L943.3 864.7L945.4 871.3zM958.5 875.8L952.8 871.6L955 865L962 865L964.1 871.6zM977.2 872.6L971.5 868.4L973.7 861.8L980.7 861.8L982.8 868.4zM995.9 875.8L990.2 871.6L992.4 865L999.4 865L1001.5 871.6zM1014.6 881.7L1008.9 877.5L1011.1 870.9L1018.1 870.9L1020.2 877.5zM1033.3 884.5L1027.6 880.3L1029.8 873.7L1036.8 873.7L1039 880.3zM1052 881.7L1046.3 877.5L1048.5 870.9L1055.5 870.9L1057.7 877.5zM1070.7 888.7L1065.1 884.5L1067.2 877.9L1074.2 877.9L1076.4 884.5zM1089.4 892.6L1083.8 888.4L1085.9 881.8L1092.9 881.8L1095.1 888.4zM1108.1 889.2L1102.5 885.1L1104.6 878.5L1111.6 878.5L1113.8 885.1zM1126.8 889.2L1121.2 885L1123.3 878.4L1130.3 878.4L1132.5 885zM1145.5 893.4L1139.9 889.2L1142.1 882.6L1149 882.6L1151.2 889.2zM1164.3 890.2L1158.6 886.1L1160.8 879.5L1167.8 879.5L1169.9 886.1zM1183 883.6L1177.3 879.4L1179.5 872.8L1186.5 872.8L1188.6 879.4zM1201.7 883.6L1196 879.4L1198.2 872.8L1205.2 872.8L1207.3 879.4zM1220.4 862.7L1214.7 858.5L1216.9 851.9L1223.9 851.9L1226 858.5zM1239.1 852.8L1233.4 848.6L1235.6 842L1242.6 842L1244.7 848.6zM1257.8 876.7L1252.1 872.5L1254.3 865.9L1261.3 865.9L1263.5 872.5zM1276.5 880.4L1270.8 876.2L1273 869.6L1280 869.6L1282.2 876.2zM1295.2 877.8L1289.6 873.6L1291.7 867L1298.7 867L1300.9 873.6zM1313.9 870.5L1308.3 866.3L1310.4 859.7L1317.4 859.7L1319.6 866.3zM1332.6 878.6L1327 874.4L1329.1 867.8L1336.1 867.8L1338.3 874.4zM1351.3 875.8L1345.7 871.6L1347.8 865L1354.8 865L1357 871.6zM1370 866.6L1364.4 862.4L1366.6 855.8L1373.5 855.8L1375.7 862.4zM1388.8 839.6L1383.1 835.4L1385.3 828.8L1392.3 828.8L1394.4 835.4zM1407.5 858.2L1401.8 854.1L1404 847.5L1411 847.5L1413.1 854.1zM1426.2 882.5L1420.5 878.3L1422.7 871.7L1429.7 871.7L1431.8 878.3zM1444.9 880.4L1439.2 876.2L1441.4 869.6L1448.4 869.6L1450.5 876.2z"/>
<path fill="none" stroke="#ffa500" stroke-width="1.05" d="M136.3 852h10.5M141.5 846.8v10.5M136.3 846.8l10.5 10.5M136.3 857.2l10.5 -10.5M142.5 850h10.5M147.8 844.8v10.5M142.5 844.8l10.5 10.5M142.5 855.2l10.5 -10.5M148.8 843.8h10.5M154 838.5v10.5M148.8 838.5l10.5 10.5M148.8 849l10.5 -10.5M155 839.4h10.5M160.2 834.1v10.5M155 834.1l10.5 10.5M155 844.6l10.5 -10.5M161.2 838h10.5M166.5 832.8v10.5M161.2 832.8l10.5 10.5M161.2 843.2l10.5 -10.5M167.5 831h10.5M172.7 825.8v10.5M167.5 825.8l10.5 10.5M167.5 836.2l10.5 -10.5M173.7 828.7h10.5M179 823.5v10.5M173.7 823.5l10.5 10.5M173.7 834l10.5 -10.5M179.9 828h10.5M185.2 822.8v10.5M179.9 822.8l10.5 10.5M179.9 833.2l10.5 -10.5M186.2 823h10.5M191.4 817.8v10.5M186.2 817.8l10.5 10.5M186.2 828.2l10.5 -10.5M192.4 815.6h10.5M197.7 810.4v10.5M192.4 810.4l10.5 10.5M192.4 820.9l10.5 -10.5M198.6 808h10.5M203.9 802.8v10.5M198.6 802.8l10.5 10.5M198.6 813.2l10.5 -10.5M204.9 800h10.5M210.1 794.8v10.5M204.9 794.8l10.5 10.5M204.9 805.2l10.5 -10.5M211.1 802h10.5M216.4 796.8v10.5M211.1 796.8l10.5 10.5M211.1 807.2l10.5 -10.5M217.4 802.7h10.5M222.6 797.5v10.5M217.4 797.5l10.5 10.5M217.4 808l10.5 -10.5M223.6 802.2h10.5M228.8 797v10.5M223.6 797l10.5 10.5M223.6 807.5l10.5 -10.5M229.8 799.4h10.5M235.1 794.1v10.5M229.8 794.1l10.5 10.5M229.8 804.6l10.5 -10.5M236.1 800h10.5M241.3 794.8v10.5M236.1 794.8l10.5 10.5M236.1 805.2l10.5 -10.5M242.3 798h10.5M247.5 792.8v10.5M242.3 792.8l10.5 10.5M242.3 803.2l10.5 -10.5M248.5 793.7h10.5M253.8 788.5v10.5M248.5 788.5l10.5 10.5M248.5 799l10.5 -10.5M254.8 790h10.5M260 784.8v10.5M254.8 784.8l10.5 10.5M254.8 795.2l10.5 -10.5M261 785h10.5M266.3 779.8v10.5M261 779.8l10.5 10.5M261 790.2l10.5 -10.5M267.2 780.6h10.5M272.5 775.4v10.5M267.2 775.4l10.5 10.5M267.2 785.9l10.5 -10.5M273.5 777.5h10.5M278.7 772.2v10.5M273.5 772.2l10.5 10.5M273.5 782.8l10.5 -10.5M279.7 775.6h10.5M285 770.4v10.5M279.7 770.4l10.5 10.5M279.7 780.9l10.5 -10.5M286 774.4h10.5M291.2 769.1v10.5M286 769.1l10.5 10.5M286 779.6l10.5 -10.5M292.2 774.4h10.5M297.4 769.1v10.5M292.2 769.1l10.5 10.5M292.2 779.6l10.5 -10.5M298.4 774.7h10.5M303.7 769.5v10.5M298.4 769.5l10.5 10.5M298.4 780l10.5 -10.5M304.7 775h10.5M309.9 769.8v10.5M304.7 769.8l10.5 10.5M304.7 780.2l10.5 -10.5M310.9 777h10.5M316.1 771.8v10.5M310.9 771.8l10.5 10.5M310.9 782.2l10.5 -10.5M317.1 778h10.5M322.4 772.8v10.5M317.1 772.8l10.5 10.5M317.1 783.2l10.5 -10.5M323.4 780.6h10.5M328.6 775.4v10.5M323.4 775.4l10.5 10.5M323.4 785.9l10.5 -10.5M329.6 783h10.5M334.9 777.8v10.5M329.6 777.8l10.5 10.5M329.6 788.2l10.5 -10.5M335.8 786h10.5M341.1 780.8v10.5M335.8 780.8l10.5 10.5M335.8 791.2l10.5 -10.5M342.1 785h10.5M347.3 779.8v10.5M342.1 779.8l10.5 10.5M342.1 790.2l10.5 -10.5M348.3 790h10.5M353.6 784.8v10.5M348.3 784.8l10.5 10.5M348.3 795.2l10.5 -10.5M354.5 794.4h10.5M359.8 789.1v10.5M354.5 789.1l10.5 10.5M354.5 799.6l10.5 -10.5M373.3 807.5h10.5M378.5 802.2v10.5M373.3 802.2l10.5 10.5M373.3 812.8l10.5 -10.5M392 810h10.5M397.2 804.8v10.5M392 804.8l10.5 10.5M392 815.2l10.5 -10.5M410.7 810.5h10.5M415.9 805.2v10.5M410.7 805.2l10.5 10.5M410.7 815.8l10.5 -10.5M429.4 811h10.5M434.6 805.8v10.5M429.4 805.8l10.5 10.5M429.4 816.2l10.5 -10.5M448.1 812h10.5M453.3 806.8v10.5M448.1 806.8l10.5 10.5M448.1 817.2l10.5 -10.5M466.8 815.3h10.5M472 810v10.5M466.8 810l10.5 10.5M466.8 820.5l10.5 -10.5M485.5 813.3h10.5M490.8 808v10.5M485.5 808l10.5 10.5M485.5 818.5l10.5 -10.5M504.2 824.2h10.5M509.5 819v10.5M504.2 819l10.5 10.5M504.2 829.5l10.5 -10.5M522.9 823.4h10.5M528.2 818.1v10.5M522.9 818.1l10.5 10.5M522.9 828.6l10.5 -10.5M541.6 819.5h10.5M546.9 814.2v10.5M541.6 814.2l10.5 10.5M541.6 824.8l10.5 -10.5M560.3 823.4h10.5M565.6 818.1v10.5M560.3 818.1l10.5 10.5M560.3 828.6l10.5 -10.5M579 825.5h10.5M584.3 820.2v10.5M579 820.2l10.5 10.5M579 830.8l10.5 -10.5M597.8 824.7h10.5M603 819.5v10.5M597.8 819.5l10.5 10.5M597.8 830l10.5 -10.5M616.5 817.2h10.5M621.7 812v10.5M616.5 812l10.5 10.5M616.5 822.5l10.5 -10.5M635.2 823.4h10.5M640.4 818.1v10.5M635.2 818.1l10.5 10.5M635.2 828.6l10.5 -10.5M653.9 838.6h10.5M659.1 833.4v10.5M653.9 833.4l10.5 10.5M653.9 843.9l10.5 -10.5M672.6 838.6h10.5M677.8 833.4v10.5M672.6 833.4l10.5 10.5M672.6 843.9l10.5 -10.5M691.3 827.3h10.5M696.5 822v10.5M691.3 822l10.5 10.5M691.3 832.5l10.5 -10.5M710 828.4h10.5M715.3 823.1v10.5M710 823.1l10.5 10.5M710 833.6l10.5 -10.5M728.7 823.4h10.5M734 818.1v10.5M728.7 818.1l10.5 10.5M728.7 828.6l10.5 -10.5M747.4 823.4h10.5M752.7 818.1v10.5M747.4 818.1l10.5 10.5M747.4 828.6l10.5 -10.5M766.1 816.4h10.5M771.4 811.1v10.5M766.1 811.1l10.5 10.5M766.1 821.6l10.5 -10.5M784.8 829.4h10.5M790.1 824.1v10.5M784.8 824.1l10.5 10.5M784.8 834.6l10.5 -10.5M803.5 840.6h10.5M808.8 835.4v10.5M803.5 835.4l10.5 10.5M803.5 845.9l10.5 -10.5M822.3 843.2h10.5M827.5 838v10.5M822.3 838l10.5 10.5M822.3 848.5l10.5 -10.5M841 836.4h10.5M846.2 831.1v10.5M841 831.1l10.5 10.5M841 841.6l10.5 -10.5M859.7 838.3h10.5M864.9 833v10.5M859.7 833l10.5 10.5M859.7 843.5l10.5 -10.5M878.4 838.3h10.5M883.6 833v10.5M878.4 833l10.5 10.5M878.4 843.5l10.5 -10.5M897.1 835h10.5M902.3 829.8v10.5M897.1 829.8l10.5 10.5M897.1 840.2l10.5 -10.5M915.8 833.3h10.5M921 828v10.5M915.8 828l10.5 10.5M915.8 838.5l10.5 -10.5M934.5 844.5h10.5M939.8 839.2v10.5M934.5 839.2l10.5 10.5M934.5 849.8l10.5 -10.5M953.2 845.6h10.5M958.5 840.4v10.5M953.2 840.4l10.5 10.5M953.2 850.9l10.5 -10.5M971.9 851.5h10.5M977.2 846.2v10.5M971.9 846.2l10.5 10.5M971.9 856.8l10.5 -10.5M990.6 843.2h10.5M995.9 838v10.5M990.6 838l10.5 10.5M990.6 848.5l10.5 -10.5M1009.3 846.5h10.5M1014.6 841.2v10.5M1009.3 841.2l10.5 10.5M1009.3 851.8l10.5 -10.5M1028 842.5h10.5M1033.3 837.2v10.5M1028 837.2l10.5 10.5M1028 847.8l10.5 -10.5M1046.8 838.3h10.5M1052 833v10.5M1046.8 833l10.5 10.5M1046.8 843.5l10.5 -10.5M1065.5 829.4h10.5M1070.7 824.1v10.5M1065.5 824.1l10.5 10.5M1065.5 834.6l10.5 -10.5M1084.2 833.3h10.5M1089.4 828v10.5M1084.2 828l10.5 10.5M1084.2 838.5l10.5 -10.5M1102.9 843.7h10.5M1108.1 838.5v10.5M1102.9 838.5l10.5 10.5M1102.9 849l10.5 -10.5M1121.6 843.7h10.5M1126.8 838.5v10.5M1121.6 838.5l10.5 10.5M1121.6 849l10.5 -10.5M1140.3 838.6h10.5M1145.5 833.4v10.5M1140.3 833.4l10.5 10.5M1140.3 843.9l10.5 -10.5M1159 840.6h10.5M1164.3 835.4v10.5M1159 835.4l10.5 10.5M1159 845.9l10.5 -10.5M1177.7 836.7h10.5M1183 831.5v10.5M1177.7 831.5l10.5 10.5M1177.7 842l10.5 -10.5M1196.4 827.6h10.5M1201.7 822.4v10.5M1196.4 822.4l10.5 10.5M1196.4 832.9l10.5 -10.5M1215.1 818.4h10.5M1220.4 813.1v10.5M1215.1 813.1l10.5 10.5M1215.1 823.6l10.5 -10.5M1233.8 811.4h10.5M1239.1 806.1v10.5M1233.8 806.1l10.5 10.5M1233.8 816.6l10.5 -10.5M1252.5 813.3h10.5M1257.8 808v10.5M1252.5 808l10.5 10.5M1252.5 818.5l10.5 -10.5M1271.3 829.4h10.5M1276.5 824.1v10.5M1271.3 824.1l10.5 10.5M1271.3 834.6l10.5 -10.5M1290 826.2h10.5M1295.2 821v10.5M1290 821l10.5 10.5M1290 831.5l10.5 -10.5M1308.7 831.5h10.5M1313.9 826.2v10.5M1308.7 826.2l10.5 10.5M1308.7 836.8l10.5 -10.5M1327.4 825.3h10.5M1332.6 820v10.5M1327.4 820l10.5 10.5M1327.4 830.5l10.5 -10.5M1364.8 809h10.5M1370 803.8v10.5M1364.8 803.8l10.5 10.5M1364.8 814.2l10.5 -10.5M1402.2 808.2h10.5M1407.5 803v10.5M1402.2 803l10.5 10.5M1402.2 813.5l10.5 -10.5M1439.6 817.2h10.5M1444.9 812v10.5M1439.6 812l10.5 10.5M1439.6 822.5l10.5 -10.5"/>
<path fill="#0000cd" d="M1390 123h9.1v9.1h-9.1z"/>
<g fill="#006400"><circle cx="1394.5" cy="160.8" r="5.75"/></g>
<path fill="#ff0000" d="M1388.5 198.1L1394.5 187.2L1400.5 198.1z"/>
<path fill="#000" d="M1388.5 221.7L1394.5 232.6L1400.5 221.7z"/>
<path fill="#bebebe" d="M1388.8 258.4L1394.5 252.6L1400.2 258.4L1394.5 264.1z"/>
<path fill="#87ceeb" d="M1394.5 297.2L1388.8 293.1L1391 286.4L1398 286.4L1400.2 293.1z"/>
<path fill="none" stroke="#ffa500" stroke-width="1.05" d="M1389.2 324.6h10.5M1394.5 319.4v10.5M1389.2 319.4l10.5 10.5M1389.2 329.9l10.5 -10.5"/>
</g>
</svg>
</body></html>
